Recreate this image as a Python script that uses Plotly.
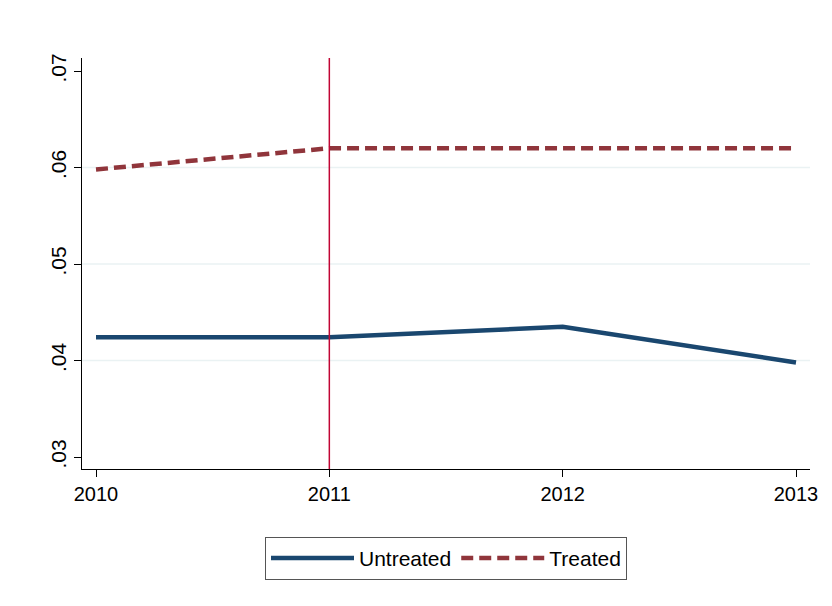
import plotly.graph_objects as go

years = [2010, 2011, 2012, 2013]
untreated = [0.0424, 0.0424, 0.0435, 0.0398]
treated = [0.0598, 0.0620, 0.0620, 0.0620]
y_ticks = [0.03, 0.04, 0.05, 0.06, 0.07]
y_tick_labels = [".03", ".04", ".05", ".06", ".07"]
grid_vals = [0.04, 0.05, 0.06]
x_ticks = [2010, 2011, 2012, 2013]
treat_year = 2011

fig = go.Figure()
fig.add_trace(go.Scatter(x=years, y=untreated, mode="lines", name="Untreated",
                         line=dict(color="#1a476f", width=4.5)))
fig.add_trace(go.Scatter(x=years, y=treated, mode="lines", name="Treated",
                         line=dict(color="#90353b", width=4.5, dash="12px,6px")))

shapes = []
for g in grid_vals:
    shapes.append(dict(type="line", xref="paper", x0=0, x1=1, yref="y", y0=g, y1=g,
                       line=dict(color="#eaf2f3", width=1.5), layer="below"))
shapes.append(dict(type="line", xref="x", x0=treat_year, x1=treat_year, yref="paper", y0=0, y1=1,
                   line=dict(color="#c10534", width=1.5)))

fig.update_layout(
    width=832, height=606,
    margin=dict(l=82, r=22, t=58, b=137),
    paper_bgcolor="white", plot_bgcolor="white",
    font=dict(family="Liberation Sans, Arial, sans-serif", size=20, color="black"),
    shapes=shapes,
    showlegend=True,
    legend=dict(orientation="h", x=0.5, xanchor="center", y=-0.165, yanchor="top",
                bordercolor="#555555", borderwidth=1, font=dict(size=21),
                itemwidth=83),
    xaxis=dict(range=[2009.94, 2013.06], tickvals=x_ticks, ticktext=[str(v) for v in x_ticks],
               showgrid=False, zeroline=False, showline=True, linecolor="black", linewidth=1.2,
               ticks="outside", ticklen=7, tickcolor="black", tickfont=dict(size=20)),
    yaxis=dict(range=[0.02876, 0.07135], tickvals=y_ticks, ticktext=y_tick_labels,
               tickangle=-90, showgrid=False, zeroline=False, showline=True, linecolor="black",
               linewidth=1.2, ticks="outside", ticklen=7, tickcolor="black", tickfont=dict(size=21)),
)

fig.write_html("out.html")
